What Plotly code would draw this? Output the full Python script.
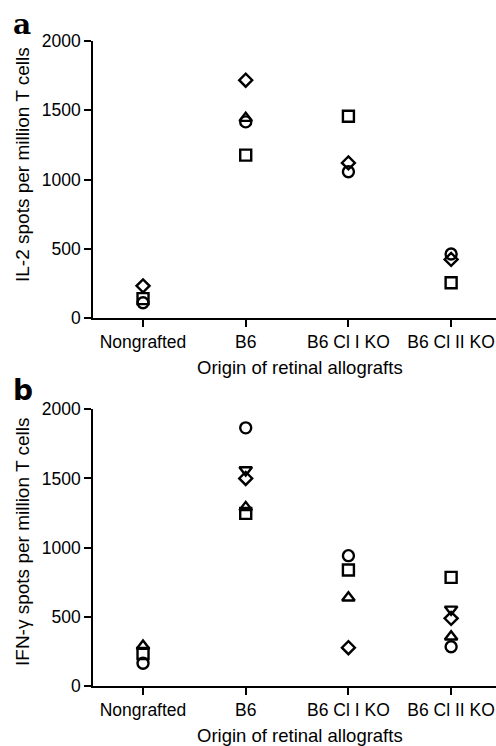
import plotly.graph_objects as go

W, H = 496, 746

categories = ["Nongrafted", "B6", "B6 Cl I KO", "B6 Cl II KO"]
y_ticks = [0, 500, 1000, 1500, 2000]

# Panel a: IL-2 spots per million T cells
il2_circle = [110, 1416, 1056, 462]
il2_square = [140, 1176, 1457, 255]
il2_triangle = [None, 1443, None, None]
il2_diamond = [232, 1717, 1120, 423]

# Panel b: IFN-gamma spots per million T cells
ifn_circle = [164, 1866, 942, 284]
ifn_square = [235, 1248, 838, 785]
ifn_triangle = [289, 1291, 638, 356]
ifn_diamond = [None, 1500, 277, 489]
ifn_invtriangle = [None, 1561, None, 554]

def px(x):
    return x / W

def py(y):
    return 1 - y / H

fig = go.Figure()

def add(vals, symbol, size, xa, ya):
    fig.add_trace(go.Scatter(
        x=[categories.index(c) for c, v in zip(categories, vals) if v is not None],
        y=[v for v in vals if v is not None],
        mode="markers",
        marker=dict(symbol=symbol, size=size, color="black",
                    line=dict(color="black", width=2.4)),
        xaxis=xa, yaxis=ya, showlegend=False, cliponaxis=False,
    ))

add(il2_circle, "circle-open", 11, "x", "y")
add(il2_triangle, "triangle-up-open", 11, "x", "y")
add(il2_square, "square-open", 11, "x", "y")
add(il2_diamond, "diamond-open", 10, "x", "y")

add(ifn_circle, "circle-open", 11, "x2", "y2")
add(ifn_square, "square-open", 11, "x2", "y2")
add(ifn_triangle, "triangle-up-open", 11, "x2", "y2")
add(ifn_diamond, "diamond-open", 10, "x2", "y2")
add(ifn_invtriangle, "triangle-down-open", 11, "x2", "y2")

font = "Liberation Sans, Arial, Helvetica, sans-serif"
xr = [-0.487, 3.437]

xcommon = dict(range=xr, tickmode="array", tickvals=list(range(4)), ticktext=categories,
               showline=True, linecolor="black", linewidth=1.5, ticks="outside",
               ticklen=7, tickwidth=1.5, tickcolor="black", showgrid=False, zeroline=False,
               automargin=False,
               tickfont=dict(family=font, size=17.5, color="black"), domain=[px(93), 1])
ycommon = dict(range=[0, 2000], tickvals=y_ticks, showline=True, linecolor="black",
               linewidth=1.5, ticks="outside", ticklen=7, tickwidth=1.5, tickcolor="black",
               showgrid=False, zeroline=False, automargin=False,
               tickfont=dict(family=font, size=17.5, color="black"))

fig.update_layout(
    width=W, height=H, margin=dict(l=0, r=0, t=0, b=0),
    paper_bgcolor="white", plot_bgcolor="white",
    xaxis=dict(**xcommon, anchor="y"),
    yaxis=dict(**ycommon, domain=[py(318), py(41)], anchor="x"),
    xaxis2=dict(**xcommon, anchor="y2"),
    yaxis2=dict(**ycommon, domain=[py(686), py(409.3)], anchor="x2"),
    annotations=[
        dict(text="a", x=px(11), y=py(6), xref="paper", yref="paper", xanchor="left",
             yanchor="top", showarrow=False,
             font=dict(family="DejaVu Serif", size=28, color="black", weight="bold")),
        dict(text="b", x=px(11), y=py(372), xref="paper", yref="paper", xanchor="left",
             yanchor="top", showarrow=False,
             font=dict(family="DejaVu Sans", size=28, color="black", weight="bold")),
        dict(text="IL-2 spots per million T cells", x=px(22), y=py(165), xref="paper",
             yref="paper", xanchor="center", yanchor="middle", textangle=-90,
             showarrow=False, font=dict(family=font, size=19, color="black")),
        dict(text="IFN-γ spots per million T cells", x=px(22), y=py(542), xref="paper",
             yref="paper", xanchor="center", yanchor="middle", textangle=-90,
             showarrow=False, font=dict(family=font, size=19, color="black")),
        dict(text="Origin of retinal allografts", x=px(300), y=py(367), xref="paper",
             yref="paper", xanchor="center", yanchor="middle", showarrow=False,
             font=dict(family=font, size=18.5, color="black")),
        dict(text="Origin of retinal allografts", x=px(300), y=py(735), xref="paper",
             yref="paper", xanchor="center", yanchor="middle", showarrow=False,
             font=dict(family=font, size=18.5, color="black")),
    ],
)

fig.write_html("out.html", config={"displayModeBar": False},
               post_script="document.body.style.margin='0';document.body.style.overflow='hidden';")
